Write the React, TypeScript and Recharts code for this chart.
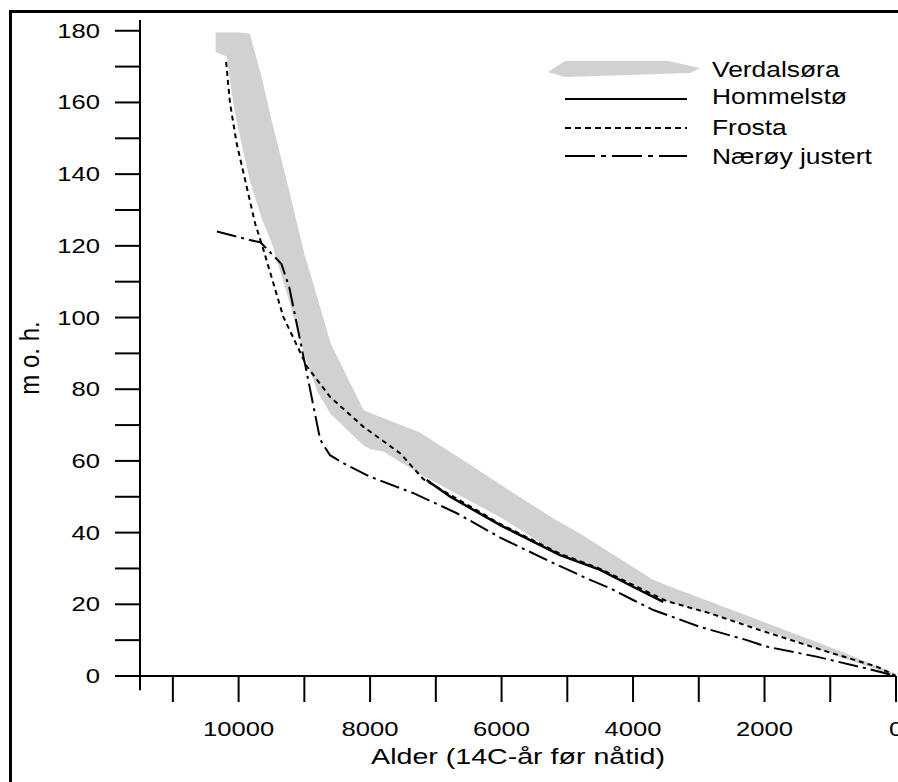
import React from "react";
import {
  ComposedChart,
  Area,
  Line,
  XAxis,
  YAxis,
  Legend,
  ReferenceLine,
  Label,
} from "recharts";

// axis ticks
const AGE_TICKS = [0, 1000, 2000, 3000, 4000, 5000, 6000, 7000, 8000, 9000, 10000, 11000];
const HEIGHT_TICKS = [0, 10, 20, 30, 40, 50, 60, 70, 80, 90, 100, 110, 120, 130, 140, 150, 160, 170, 180];

// Verdalsøra band (lower / upper shoreline, m o.h.)
const VERDAL_AGE = [10350, 10180, 10080, 10000, 9830, 9650, 9500, 9250, 9000, 8800, 8600, 8100, 8000, 7800, 7250, 6600, 6000, 5200, 4800, 4400, 3700, 3500, 2500, 2000, 1000, 0];
const VERDAL_LOW = [174, 172.8, 159.7, 152.2, 138.3, 127.7, 121, 105.7, 89.7, 79.3, 73.1, 64.3, 63.3, 62.6, 56.4, 50, 44.1, 34.8, 31.8, 29.1, 22.6, 21, 15.6, 12.8, 6.3, 0];
const VERDAL_HIGH = [179.5, 179.5, 179.5, 179.5, 179.2, 167.1, 155.2, 136.8, 117.8, 105.4, 92.8, 74.2, 73.4, 72, 68, 60.4, 53.2, 43.8, 39.7, 35, 26.9, 25.4, 18.5, 15, 8, 0.6];

// Hommelstø
const HOMMEL_AGE = [7140, 6780, 6020, 5110, 4500, 4000, 3540];
const HOMMEL_M = [54.7, 50, 42.1, 33.7, 29.6, 24.9, 20.7];

// Frosta
const FROSTA_AGE = [10190, 10130, 10030, 9900, 9750, 9620, 9320, 8960, 8610, 8100, 7540, 7190, 6020, 5110, 4500, 4000, 3490, 2830, 2070, 1050, 290, 0];
const FROSTA_M = [171.3, 159.7, 148.6, 138.3, 126.3, 118.8, 100.2, 86.3, 77.9, 69.5, 62.1, 54.9, 42.4, 34.1, 29.9, 25.4, 20.9, 17.5, 12.8, 6.8, 2.6, 0];

// Nærøy justert
const NAEROY_AGE = [10330, 9830, 9670, 9350, 9230, 8990, 8760, 8610, 8400, 8000, 7340, 6680, 6020, 5260, 4700, 4350, 4000, 3690, 2980, 2270, 1970, 1210, 450, 0];
const NAEROY_M = [124, 121.6, 121, 115, 108.5, 87, 66, 61.6, 59.3, 55.6, 51, 45.4, 38.6, 31.9, 27.2, 24.5, 21.2, 18.4, 13.7, 10, 8.2, 5.4, 2.1, 0];

const bandData = VERDAL_AGE.map((age, i) => ({ age, range: [VERDAL_LOW[i], VERDAL_HIGH[i]] }));
const hommelData = HOMMEL_AGE.map((age, i) => ({ age, m: HOMMEL_M[i] }));
const frostaData = FROSTA_AGE.map((age, i) => ({ age, m: FROSTA_M[i] }));
const naeroyData = NAEROY_AGE.map((age, i) => ({ age, m: NAEROY_M[i] }));

const FONT = "'Liberation Sans', Arial, Helvetica, sans-serif";
const GRAY = "#d1d1d3";
const FROSTA_DASH = "5 4";
const NAEROY_DASH = "20 5 3 5";

const AgeTick = ({ x, y, payload }: any) => {
  if (payload.value % 2000 !== 0) return <g />;
  return (
    <text
      transform={`translate(${x},${y + 34}) scale(1.28,1)`}
      textAnchor="middle"
      fontSize={20}
      fontFamily={FONT}
      fill="#000"
    >
      {payload.value}
    </text>
  );
};

const HeightTick = ({ x, y, payload }: any) => {
  if (payload.value % 20 !== 0) return <g />;
  return (
    <text
      transform={`translate(${x},${y + 7}) scale(1.28,1)`}
      textAnchor="end"
      fontSize={20}
      fontFamily={FONT}
      fill="#000"
    >
      {payload.value}
    </text>
  );
};

const XTitle = ({ viewBox }: any) => (
  <text
    transform={`translate(${viewBox.x + viewBox.width / 2},764) scale(1.3,1)`}
    textAnchor="middle"
    fontSize={22}
    fontFamily={FONT}
    fill="#000"
  >
    Alder (14C-år før nåtid)
  </text>
);

const YTitle = ({ viewBox }: any) => (
  <text
    transform={`translate(39,${viewBox.y + viewBox.height / 2 + 10}) scale(1.15,1) rotate(-90)`}
    textAnchor="middle"
    fontSize={24}
    fontFamily={FONT}
    fill="#000"
  >
    m o. h.
  </text>
);

const legendText = (y: number, label: string) => (
  <text
    transform={`translate(172,${y}) scale(1.2,1)`}
    fontSize={22}
    fontFamily={FONT}
    fill="#000"
  >
    {label}
  </text>
);

const LegendBox = () => (
  <svg width={358} height={140} style={{ display: "block", overflow: "visible" }}>
    <polygon points="8,32 25,21 128,21 160,28 150,33 25,37" fill={GRAY} />
    {legendText(37, "Verdalsøra")}
    <line x1={25} x2={147} y1={59} y2={59} stroke="#000" strokeWidth={2} />
    {legendText(64, "Hommelstø")}
    <line x1={25} x2={147} y1={88} y2={88} stroke="#000" strokeWidth={2} strokeDasharray="6 4" />
    {legendText(95, "Frosta")}
    <line x1={25} x2={147} y1={116} y2={116} stroke="#000" strokeWidth={2} strokeDasharray="30 6 5 6" />
    {legendText(124, "Nærøy justert")}
  </svg>
);

export default function App() {
  return (
    <div
      style={{
        position: "fixed",
        left: 0,
        top: 0,
        width: 898,
        height: 782,
        overflow: "hidden",
        background: "#fff",
      }}
    >
      <div
        style={{
          position: "absolute",
          left: 9,
          top: 10,
          width: 1200,
          height: 1200,
          borderLeft: "3px solid #000",
          borderTop: "3px solid #000",
        }}
      />
      <ComposedChart
        width={898}
        height={782}
        margin={{ top: 20, right: 2, bottom: 105, left: 139 }}
        style={{ position: "absolute", left: 0, top: 0 }}
      >
        <XAxis
          type="number"
          dataKey="age"
          domain={[0, 11500]}
          ticks={AGE_TICKS}
          interval={0}
          reversed
          allowDataOverflow
          height={1}
          tickSize={26}
          tickMargin={0}
          tick={AgeTick}
          tickLine={{ stroke: "#000", strokeWidth: 2 }}
          axisLine={{ stroke: "#000", strokeWidth: 2 }}
          label={<Label content={XTitle} />}
        />
        <YAxis
          type="number"
          domain={[0, 183]}
          ticks={HEIGHT_TICKS}
          interval={0}
          allowDataOverflow
          width={1}
          tickSize={25}
          tickMargin={15}
          tick={HeightTick}
          tickLine={{ stroke: "#000", strokeWidth: 2 }}
          axisLine={{ stroke: "#000", strokeWidth: 2 }}
          label={<Label content={YTitle} />}
        />
        <ReferenceLine
          segment={[
            { x: 11500, y: 0 },
            { x: 11500, y: -4 },
          ]}
          stroke="#000"
          strokeWidth={2}
          ifOverflow="visible"
        />
        <Area
          data={bandData}
          dataKey="range"
          type="linear"
          fill={GRAY}
          fillOpacity={1}
          stroke="none"
          isAnimationActive={false}
          name="Verdalsøra"
        />
        <Line
          data={hommelData}
          dataKey="m"
          type="linear"
          stroke="#000"
          strokeWidth={2.5}
          dot={false}
          isAnimationActive={false}
          name="Hommelstø"
        />
        <Line
          data={frostaData}
          dataKey="m"
          type="linear"
          stroke="#000"
          strokeWidth={2}
          strokeDasharray={FROSTA_DASH}
          dot={false}
          isAnimationActive={false}
          name="Frosta"
        />
        <Line
          data={naeroyData}
          dataKey="m"
          type="linear"
          stroke="#000"
          strokeWidth={2}
          strokeDasharray={NAEROY_DASH}
          dot={false}
          isAnimationActive={false}
          name="Nærøy justert"
        />
        <Legend
          layout="horizontal"
          verticalAlign="middle"
          content={LegendBox}
          wrapperStyle={{ position: "absolute", left: 540, top: 40, width: 358, height: 140 }}
        />
      </ComposedChart>
    </div>
  );
}
